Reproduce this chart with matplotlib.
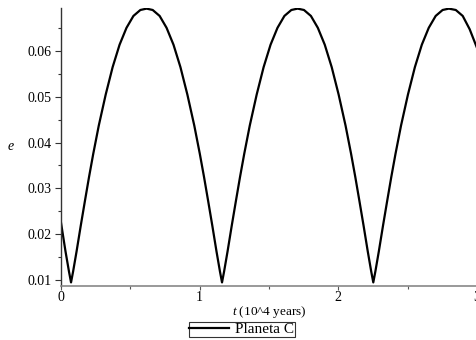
import matplotlib
matplotlib.use("Agg")
import matplotlib.pyplot as plt
from matplotlib.ticker import MultipleLocator

# eccentricity of planet C (t in 10^4 years)
t = [0.000, 0.032, 0.057, 0.072, 0.087, 0.112, 0.142, 0.172, 0.202, 0.232,
     0.272, 0.322, 0.372, 0.422, 0.472, 0.522, 0.572, 0.617, 0.661, 0.711,
     0.761, 0.811, 0.861, 0.911, 0.961, 1.001, 1.031, 1.061, 1.091, 1.121,
     1.146, 1.161, 1.176, 1.201, 1.231, 1.261, 1.291, 1.321, 1.361, 1.411,
     1.461, 1.511, 1.561, 1.611, 1.661, 1.706, 1.752, 1.802, 1.852, 1.902,
     1.952, 2.002, 2.052, 2.092, 2.122, 2.152, 2.182, 2.212, 2.237, 2.252,
     2.267, 2.292, 2.322, 2.352, 2.382, 2.412, 2.452, 2.502, 2.552, 2.602,
     2.652, 2.702, 2.752, 2.797, 2.847, 2.897, 2.947, 3.000]
e = [0.0224, 0.0162, 0.0118, 0.0094, 0.0118, 0.0162, 0.0218, 0.0272, 0.0325, 0.0375,
     0.0437, 0.0505, 0.0565, 0.0614, 0.0651, 0.0677, 0.0690, 0.0693, 0.0690, 0.0677,
     0.0651, 0.0614, 0.0565, 0.0505, 0.0437, 0.0375, 0.0325, 0.0272, 0.0218, 0.0162,
     0.0118, 0.0094, 0.0118, 0.0162, 0.0218, 0.0272, 0.0325, 0.0375, 0.0437, 0.0505,
     0.0565, 0.0614, 0.0651, 0.0677, 0.0690, 0.0693, 0.0690, 0.0677, 0.0651, 0.0614,
     0.0565, 0.0505, 0.0437, 0.0375, 0.0325, 0.0272, 0.0218, 0.0162, 0.0118, 0.0094,
     0.0118, 0.0162, 0.0218, 0.0272, 0.0325, 0.0375, 0.0437, 0.0505, 0.0565, 0.0614,
     0.0651, 0.0677, 0.0690, 0.0693, 0.0690, 0.0677, 0.0648, 0.0607]

xticks = [0, 1, 2, 3]
yticks = [0.01, 0.02, 0.03, 0.04, 0.05, 0.06]

plt.rcParams['font.family'] = ['Liberation Serif', 'DejaVu Serif']
plt.rcParams['mathtext.fontset'] = 'custom'
plt.rcParams['mathtext.it'] = 'Liberation Serif:italic'
plt.rcParams['mathtext.rm'] = 'Liberation Serif'

fig = plt.figure(figsize=(4.77, 3.40), dpi=100)
ax = fig.add_axes([0.128, 0.160, 0.872, 0.816])

ax.plot(t, e, color="black", lw=1.6, label="Planeta C")

ax.set_xlim(0, 3.0)
ax.set_ylim(0.0087, 0.0694)
ax.set_xticks(xticks)
ax.set_xticklabels([str(v) for v in xticks])
ax.set_yticks(yticks)
ax.set_yticklabels(["%.2f" % v for v in yticks])
ax.xaxis.set_minor_locator(MultipleLocator(0.5))
ax.yaxis.set_minor_locator(MultipleLocator(0.005))

ax.spines["top"].set_visible(False)
ax.spines["right"].set_visible(False)
ax.spines["left"].set_color("#333333")
ax.spines["bottom"].set_color("#888888")
ax.spines["left"].set_linewidth(1.0)
ax.spines["bottom"].set_linewidth(1.2)

ax.tick_params(axis="y", which="major", length=4, width=0.8, color="#333333",
               labelsize=10, pad=3)
ax.tick_params(axis="y", which="minor", length=2.5, width=0.8, color="#333333")
ax.tick_params(axis="x", which="major", length=3, width=0.8, color="#555555",
               labelsize=10, pad=1)
ax.tick_params(axis="x", which="minor", length=2, width=0.8, color="#555555")

ax.set_ylabel("$e$", rotation=0, fontsize=10, labelpad=12, va="center")
ax.set_xlabel("$t$ (10^4 years)", fontsize=9.5, labelpad=0)

leg = fig.legend(loc="center", bbox_to_anchor=(0.507, 0.031), frameon=True,
                 fancybox=False, edgecolor="black", fontsize=11, handlelength=2.6,
                 borderpad=0.05, handletextpad=0.4, borderaxespad=0)
leg.get_frame().set_linewidth(0.8)

fig.savefig("out.png", dpi=100)
